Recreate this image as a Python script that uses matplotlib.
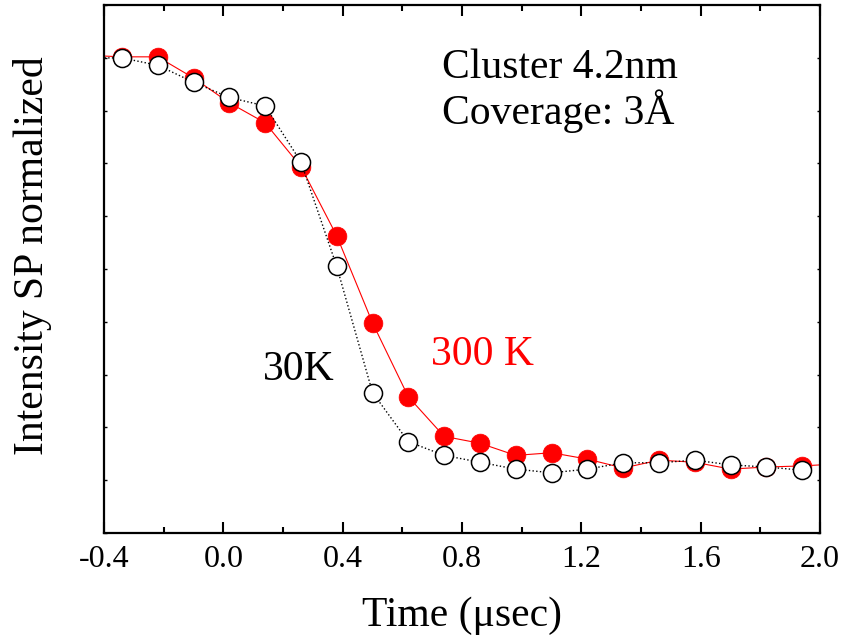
import matplotlib
matplotlib.use("Agg")
import matplotlib.pyplot as plt
from matplotlib.ticker import MultipleLocator

# time axis (usec); first / last points lie outside the visible range
t_30k  = [-0.46, -0.34, -0.22, -0.10, 0.02, 0.14, 0.26, 0.38, 0.50, 0.62, 0.74,
          0.86, 0.98, 1.10, 1.22, 1.34, 1.46, 1.58, 1.70, 1.82, 1.94]
sp_30k = [0.900, 0.900, 0.886, 0.854, 0.825, 0.809, 0.703, 0.505, 0.266, 0.173, 0.147,
          0.134, 0.121, 0.114, 0.121, 0.133, 0.133, 0.138, 0.129, 0.125, 0.119]

t_300k  = [-0.46, -0.34, -0.22, -0.10, 0.02, 0.14, 0.26, 0.38, 0.50, 0.62, 0.74,
           0.86, 0.98, 1.10, 1.22, 1.34, 1.46, 1.58, 1.70, 1.82, 1.94, 2.06]
sp_300k = [0.905, 0.902, 0.902, 0.862, 0.815, 0.777, 0.694, 0.563, 0.398, 0.258, 0.183,
           0.170, 0.147, 0.152, 0.140, 0.123, 0.138, 0.134, 0.121, 0.125, 0.127, 0.131]

plt.rcParams["font.family"] = ["Liberation Serif", "DejaVu Serif"]

fig = plt.figure(figsize=(8.56, 6.38), dpi=100)
ax = fig.add_axes([0.1215, 0.1646, 0.8365, 0.8274])

ax.plot(t_300k, sp_300k, "-", color="red", lw=0.8, marker="o", ms=13.5,
        mfc="red", mec="red", mew=0.5, zorder=2)
ax.plot(t_30k, sp_30k, ":", color="black", lw=1.0, marker="o", ms=13,
        mfc="white", mec="black", mew=1.1, zorder=3)

ax.set_xlim(-0.4, 2.0)
ax.set_ylim(0.0, 1.0)
ax.xaxis.set_major_locator(MultipleLocator(0.4))
ax.xaxis.set_minor_locator(MultipleLocator(0.2))
ax.xaxis.set_major_formatter(plt.FuncFormatter(lambda v, p: f"{v:.1f}"))
ax.yaxis.set_major_locator(MultipleLocator(0.1))
ax.set_yticklabels([])

ax.tick_params(axis="x", which="major", direction="in", length=8, width=1.5,
               top=True, labelsize=23, pad=9)
ax.tick_params(axis="x", which="minor", direction="in", length=4.5, width=1.5, top=True)
ax.tick_params(axis="y", which="major", direction="in", length=2.5, width=1.0,
               right=True)
for s in ax.spines.values():
    s.set_linewidth(1.6)

ax.set_xlabel("Time (\u03bcsec)", fontsize=30, labelpad=16)
ax.set_ylabel("Intensity SP normalized", fontsize=30, labelpad=36)
ax.yaxis.set_label_coords(-0.072, 0.525)
ax.yaxis.label.set_verticalalignment("bottom")

ax.text(0.133, 0.29, "30K", fontsize=30, color="black", va="baseline")
ax.text(0.696, 0.318, "300 K", fontsize=30, color="red", va="baseline")
ax.text(0.733, 0.862, "Cluster 4.2nm", fontsize=30, va="baseline")
ax.text(0.733, 0.775, "Coverage: 3\u00c5", fontsize=30, va="baseline")

fig.savefig("out.png", dpi=100)
